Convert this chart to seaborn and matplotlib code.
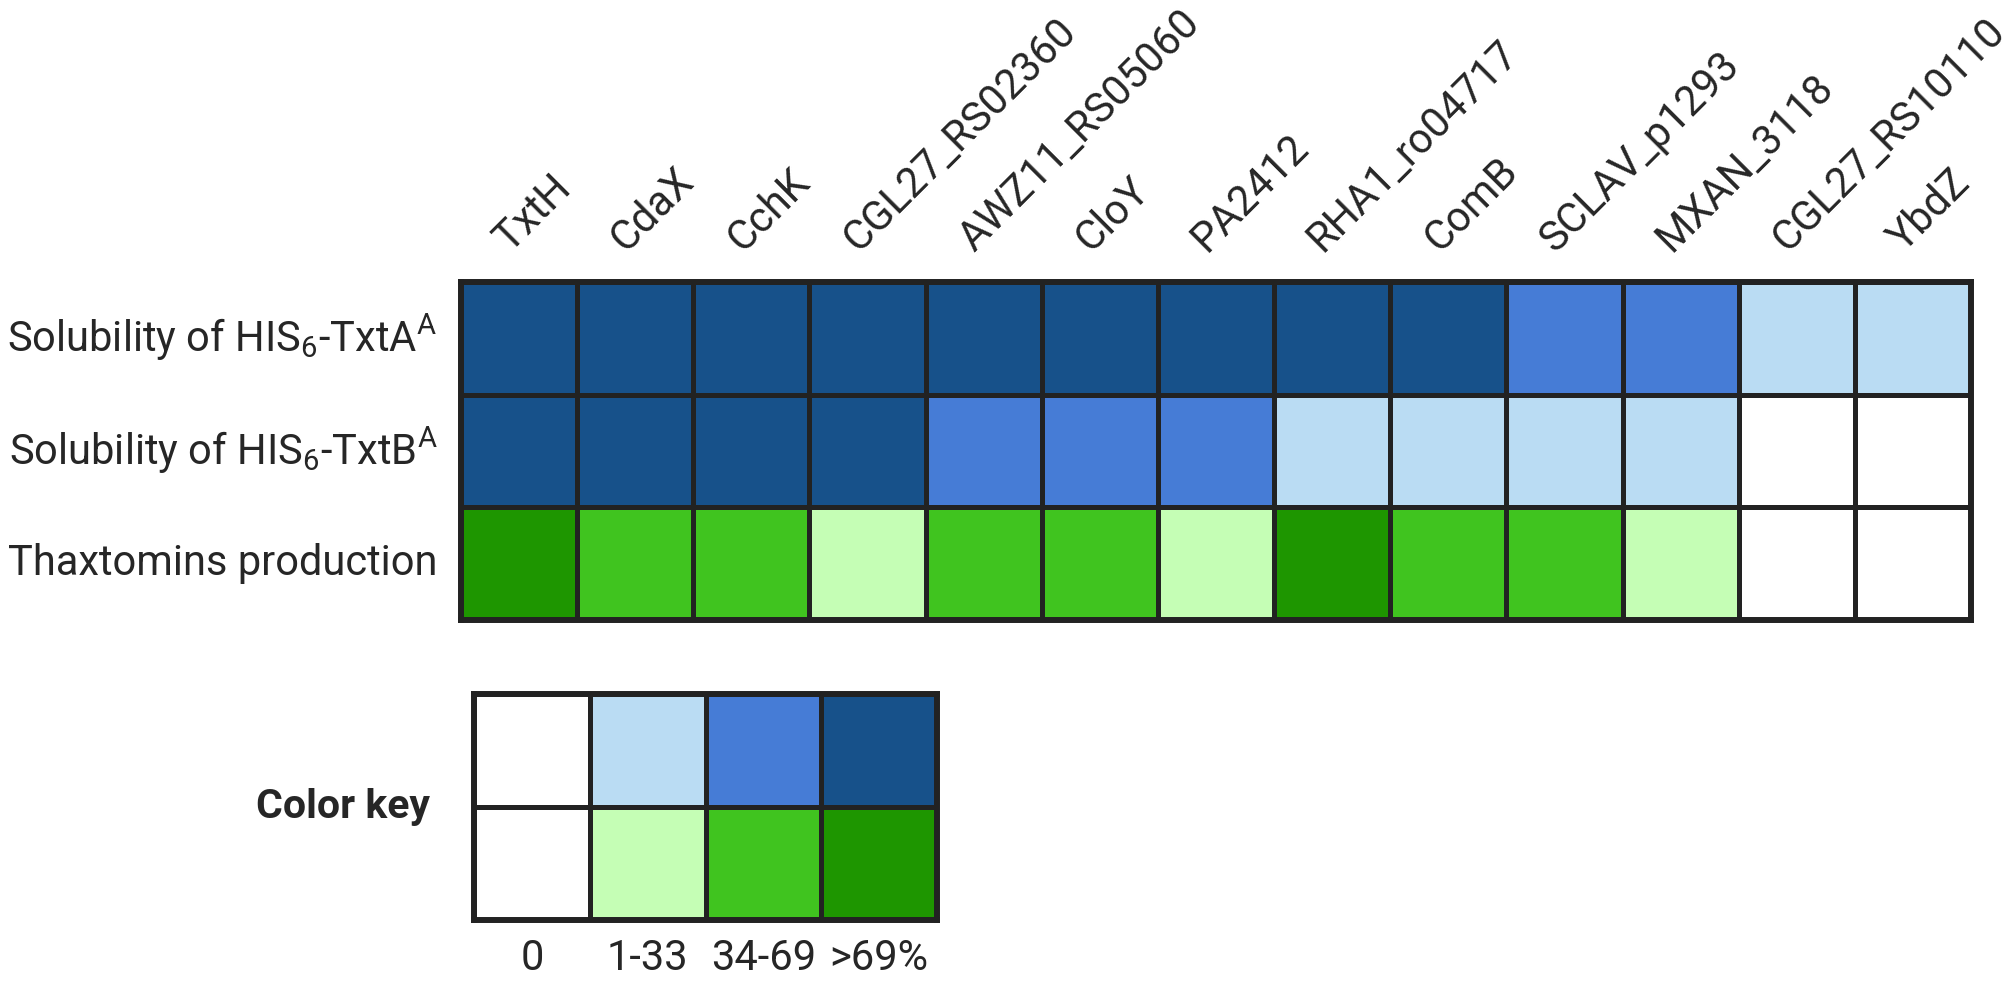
import numpy as np
import pandas as pd
import matplotlib
matplotlib.use("Agg")
import matplotlib.pyplot as plt
from matplotlib.colors import ListedColormap
import seaborn as sns

# ---------------- data ----------------
proteins = ["TxtH", "CdaX", "CchK", "CGL27_RS02360", "AWZ11_RS05060", "CloY",
            "PA2412", "RHA1_ro04717", "ComB", "SCLAV_p1293", "MXAN_3118",
            "CGL27_RS10110", "YbdZ"]
row_labels = [r"Solubility of HIS$_{6}$-TxtA$^{\mathrm{A}}$",
              r"Solubility of HIS$_{6}$-TxtB$^{\mathrm{A}}$",
              "Thaxtomins production"]
# levels: 0 = 0, 1 = 1-33, 2 = 34-69, 3 = >69%
solubility_txta = [3, 3, 3, 3, 3, 3, 3, 3, 3, 2, 2, 1, 1]
solubility_txtb = [3, 3, 3, 3, 2, 2, 2, 1, 1, 1, 1, 0, 0]
thaxtomin_prod = [3, 2, 2, 1, 2, 2, 1, 3, 2, 2, 1, 0, 0]
key_levels = [0, 1, 2, 3]
key_labels = ["0", "1-33", "34-69", ">69%"]

blue_colors = ["#FFFFFF", "#BADCF3", "#467CD6", "#17518A"]
green_colors = ["#C5FEB5", "#40C41F", "#1E9600"]
palette = blue_colors + green_colors


def green_code(levels):
    return [0 if v == 0 else 3 + v for v in levels]


main_df = pd.DataFrame([solubility_txta, solubility_txtb, green_code(thaxtomin_prod)],
                       index=row_labels, columns=proteins)
key_df = pd.DataFrame([key_levels, green_code(key_levels)], columns=key_labels)

# ---------------- style ----------------
sns.set_theme(style="white")
plt.rcParams["font.family"] = ["Roboto", "DejaVu Sans"]
plt.rcParams["mathtext.fontset"] = "custom"
plt.rcParams["mathtext.rm"] = "Roboto"
plt.rcParams["mathtext.it"] = "Roboto:italic"
plt.rcParams["mathtext.bf"] = "Roboto:bold"
text_color = "#262626"
edge_color = "#222222"
cmap = ListedColormap(palette)
FS = 30

fig = plt.figure(figsize=(20.10, 9.82), dpi=100)

# ---------------- main heatmap ----------------
ax = fig.add_axes([461 / 2010, 1 - 620 / 982, 1510 / 2010, 338 / 982])
sns.heatmap(main_df, ax=ax, cmap=cmap, vmin=-0.5, vmax=len(palette) - 0.5,
            cbar=False, linewidths=3.6, linecolor=edge_color, square=False)
for s in ax.spines.values():
    s.set_visible(True)
    s.set_linewidth(4.3)
    s.set_color(edge_color)
ax.set_xticks([])
ax.set_xlabel("")
ax.set_ylabel("")
ax.set_yticks(np.arange(len(row_labels)) + 0.5)
ax.set_yticklabels(row_labels, rotation=0, fontsize=FS, color=text_color)
ax.tick_params(axis="y", length=0, pad=17)
xt = ax.get_xaxis_transform()
for i, name in enumerate(proteins):
    ax.text(i + 0.5 - 0.08, 1.085, name, transform=xt, rotation=45,
            rotation_mode="anchor", ha="left", va="baseline",
            fontsize=FS, color=text_color)

# ---------------- color key ----------------
kax = fig.add_axes([474 / 2010, 1 - 920 / 982, 463 / 2010, 226 / 982])
sns.heatmap(key_df, ax=kax, cmap=cmap, vmin=-0.5, vmax=len(palette) - 0.5,
            cbar=False, linewidths=3.6, linecolor=edge_color)
for s in kax.spines.values():
    s.set_visible(True)
    s.set_linewidth(4.3)
    s.set_color(edge_color)
kax.set_yticks([])
kax.set_ylabel("")
kax.set_xticks(np.arange(len(key_labels)) + 0.5)
kax.set_xticklabels(key_labels, rotation=0, fontsize=FS, color=text_color)
kax.tick_params(axis="x", length=0, pad=13)
kax.text(-0.095, 0.5, "Color key", transform=kax.transAxes, ha="right",
         va="center", fontsize=29.5, fontweight="bold", color=text_color)

fig.savefig("out.png", dpi=100, facecolor="white")
